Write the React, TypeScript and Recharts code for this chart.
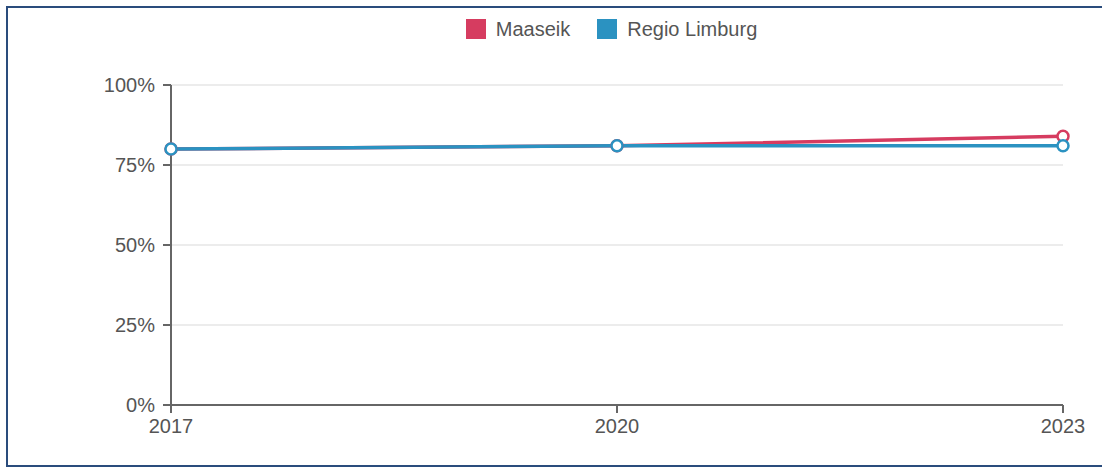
import React from "react";
import { LineChart, Line, XAxis, YAxis, CartesianGrid, Legend } from "recharts";

const years = ["2017", "2020", "2023"];
const maaseik = [80, 81, 84];
const regioLimburg = [80, 81, 81];
const yTicks = [0, 25, 50, 75, 100];

const data = years.map((y, i) => ({ year: y, Maaseik: maaseik[i], "Regio Limburg": regioLimburg[i] }));

const RED = "#d63c60";
const BLUE = "#2b92c1";
const FONT = "'Liberation Sans', Arial, sans-serif";

const LegendContent = (props: any) => {
  const { payload } = props;
  return (
    <div style={{ display: "flex", justifyContent: "center", fontFamily: FONT, fontSize: 20, color: "#555", height: 20, lineHeight: "20px" }}>
      {payload.map((p: any, i: number) => (
        <div key={i} style={{ display: "flex", alignItems: "center", marginLeft: i ? 27 : 0 }}>
          <span style={{ display: "inline-block", width: 20, height: 20, background: p.color, marginRight: 10 }} />
          <span>{p.value}</span>
        </div>
      ))}
    </div>
  );
};

export default function App() {
  return (
    <div style={{ position: "absolute", left: 0, top: 0, width: 1102, height: 468, background: "#fff", overflow: "hidden" }}>
      <div
        style={{
          position: "absolute",
          left: 6,
          top: 6,
          width: 1110,
          height: 461,
          border: "2px solid #2a4c7c",
          boxSizing: "border-box",
        }}
      />
      <div style={{ position: "absolute", left: 0, top: 0 }}>
        <LineChart width={1102} height={468} data={data} margin={{ top: 65, right: 39, bottom: 0, left: 0 }}>
          <CartesianGrid horizontal vertical={false} stroke="#e6e6e6" strokeWidth={1.5} />
          <XAxis
            dataKey="year"
            stroke="#666"
            strokeWidth={2}
            tickSize={8}
            tickMargin={6}
            tick={{ fill: "#555", fontSize: 20, fontFamily: FONT }}
            height={63}
          />
          <YAxis
            domain={[0, 100]}
            ticks={yTicks}
            tickFormatter={(v: number) => `${v}%`}
            stroke="#666"
            strokeWidth={2}
            tickSize={8}
            tickMargin={8}
            width={171}
            tick={{ fill: "#555", fontSize: 20, fontFamily: FONT }}
          />
          <Legend verticalAlign="top" content={<LegendContent />} wrapperStyle={{ top: 19, left: 0, width: 1223 }} />
          <Line
            dataKey="Maaseik"
            stroke={RED}
            strokeWidth={3.5}
            dot={{ r: 5.5, fill: "#fff", stroke: RED, strokeWidth: 2.5 }}
            isAnimationActive={false}
          />
          <Line
            dataKey="Regio Limburg"
            stroke={BLUE}
            strokeWidth={3.5}
            dot={{ r: 5.5, fill: "#fff", stroke: BLUE, strokeWidth: 2.5 }}
            isAnimationActive={false}
          />
        </LineChart>
      </div>
    </div>
  );
}
